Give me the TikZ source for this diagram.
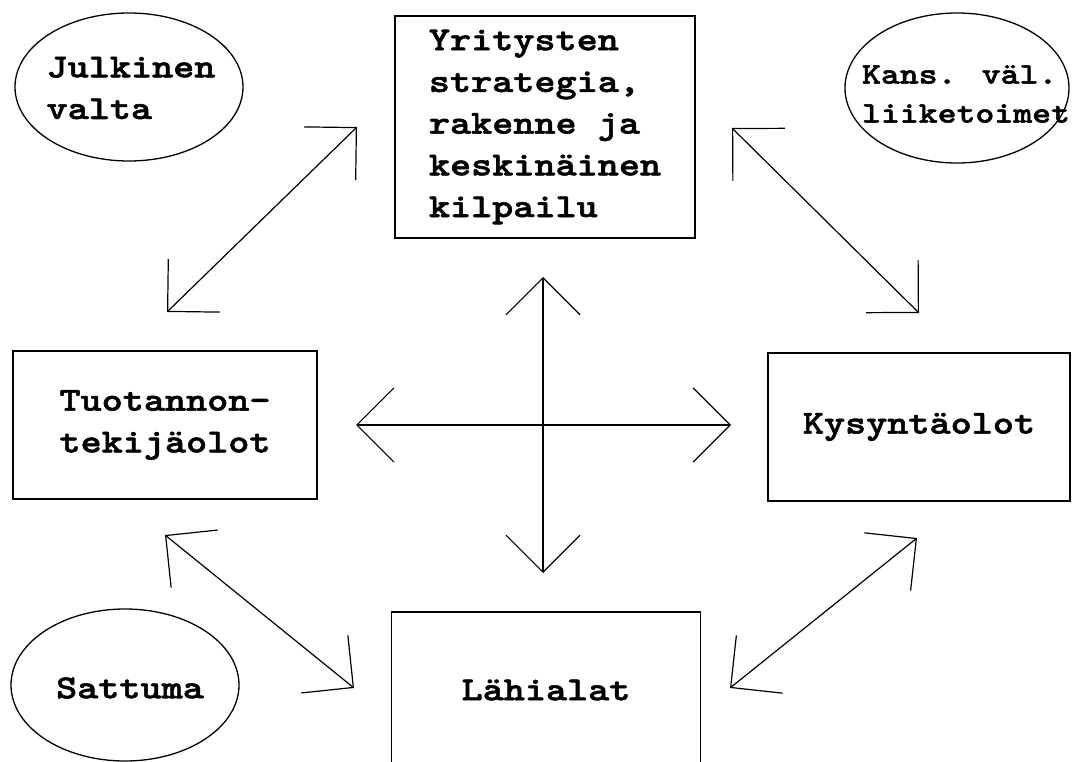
\documentclass[tikz,border=0pt]{standalone}
\usepackage{fontspec}
\newfontfamily\typefont{lmmonolt10-bold.otf}[FakeStretch=1.2, FakeBold=1.6]
\usetikzlibrary{arrows.meta,shapes.geometric}
\newcommand\diagfont{\typefont\fontsize{33.5pt}{41.7pt}\selectfont}
\newcommand\kansfont{\typefont\fontsize{30pt}{39pt}\selectfont}

\begin{document}
\begin{tikzpicture}[x=1pt, y=-1pt,
	box/.style={draw, line width=1.3pt, font=\diagfont, align=left, inner sep=0pt},
	oval/.style={draw, ellipse, line width=1.3pt, inner sep=0pt},
	txt/.style={font=\diagfont, align=left, inner sep=0pt},
	link/.style={line width=1.2pt, {Straight Barb[length=37pt, width=74pt]}-{Straight Barb[length=37pt, width=74pt]}}]
	\useasboundingbox (0,0) rectangle (1072,762);
	\clip (0,0) rectangle (1072,762);
	\node[box, minimum width=300pt, minimum height=222pt] (strat) at (545,127) {Yritysten\\strategia,\\rakenne ja\\keskinäinen\\kilpailu};
	\node[box, minimum width=304pt, minimum height=148pt] (tuot) at (165,425) {Tuotannon-\\tekijäolot};
	\node[box, minimum width=302pt, minimum height=148pt] (kys) at (919,427) {Kysyntäolot};
	\node[box, minimum width=309pt, minimum height=156pt] (lahi) at (546,690) {Lähialat};
	\node[oval, minimum width=228pt, minimum height=148pt] (julk) at (129,87) {};
	\node[txt] (julkt) at (131,88) {Julkinen\\valta};
	\node[oval, minimum width=224pt, minimum height=150pt] (kans) at (957,88) {};
	\node[txt, font=\kansfont] (kanst) at (966,94) {Kans. väl.\\liiketoimet};
	\node[oval, minimum width=228pt, minimum height=152pt] (satt) at (125,685) {};
	\node[txt] (sattt) at (130,688) {Sattuma};
	\coordinate (nw1) at (167,312); \coordinate (nw2) at (357,127);
	\coordinate (ne1) at (732,128); \coordinate (ne2) at (919,313);
	\coordinate (up) at (543,277); \coordinate (down) at (543,573);
	\coordinate (left) at (356,425); \coordinate (right) at (731,425);
	\coordinate (sw1) at (165,535); \coordinate (sw2) at (354,688);
	\coordinate (se1) at (917,538); \coordinate (se2) at (730,688);
	\draw[link] (nw1) -- (nw2);
	\draw[link] (ne1) -- (ne2);
	\draw[link] (up) -- (down);
	\draw[link] (left) -- (right);
	\draw[link] (sw1) -- (sw2);
	\draw[link] (se1) -- (se2);
\end{tikzpicture}
\end{document}
